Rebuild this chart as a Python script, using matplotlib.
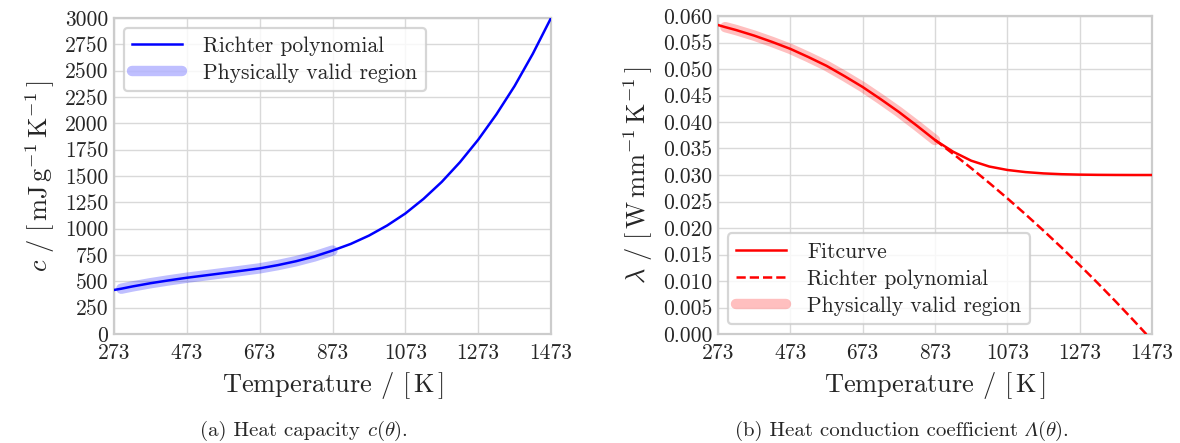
import matplotlib
matplotlib.use("Agg")
import matplotlib.pyplot as plt
import numpy as np

# ---------------- data ----------------
temp_c = [273, 293, 323, 373, 423, 473, 523, 573, 623, 673, 723, 773, 823, 873,
          923, 973, 1023, 1073, 1123, 1173, 1223, 1273, 1323, 1373, 1423, 1473]
heat_capacity = [418, 430, 451, 482, 509, 534, 556, 578, 600, 623, 654, 691, 736, 792,
                 855, 934, 1030, 1144, 1283, 1444, 1631, 1844, 2085, 2354, 2660, 3000]

temp_l = [273, 293, 323, 373, 423, 473, 523, 573, 623, 673, 723, 773, 823, 873,
          923, 973, 1023, 1073, 1123, 1173, 1223, 1273, 1323, 1373, 1423, 1473]
fitcurve = [0.0583, 0.0579, 0.05735, 0.0563, 0.0551, 0.0538, 0.05225, 0.0506, 0.04865,
            0.0466, 0.0443, 0.0419, 0.0393, 0.0366, 0.0344, 0.0327, 0.0316, 0.03095,
            0.03055, 0.0303, 0.03015, 0.03007, 0.03003, 0.03001, 0.0300, 0.0300]

temp_richter = [873, 923, 973, 1023, 1073, 1123, 1173, 1223, 1273, 1323, 1373, 1423, 1473]
richter_l = [0.0366, 0.0340, 0.0313, 0.0285, 0.0256, 0.0226, 0.0195, 0.0163, 0.0130,
             0.0096, 0.0061, 0.0025, -0.0012]

valid_range = (293, 873)
xticks = [273, 473, 673, 873, 1073, 1273, 1473]
c_ticks = list(range(0, 3001, 250))
l_ticks = [round(0.005 * i, 3) for i in range(13)]

# ---------------- style ----------------
plt.rcParams['font.family'] = 'serif'
plt.rcParams['font.serif'] = ['cmr10', 'DejaVu Serif']
plt.rcParams['mathtext.fontset'] = 'cm'
plt.rcParams['axes.formatter.use_mathtext'] = True
plt.rcParams['axes.unicode_minus'] = False

grid_col = '#d9d9d9'
spine_col = '#cccccc'
txt_col = '#262626'

fig = plt.figure(figsize=(11.8, 4.43), dpi=100)
ax1 = fig.add_axes([114 / 1180, 1 - 334 / 443, 437 / 1180, 316 / 443])
ax2 = fig.add_axes([718 / 1180, 1 - 334 / 443, 434 / 1180, 318 / 443])

def style(ax):
    ax.grid(True, color=grid_col, linewidth=1.0)
    ax.set_axisbelow(True)
    for s in ax.spines.values():
        s.set_color(spine_col)
        s.set_linewidth(1.6)
    ax.tick_params(axis='both', length=0, labelsize=15.5, colors=txt_col)
    ax.tick_params(axis='y', pad=4)
    ax.tick_params(axis='x', pad=7)

# ---- left: heat capacity ----
tc = np.array(temp_c)
hc = np.array(heat_capacity)
m = (tc >= valid_range[0]) & (tc <= valid_range[1])
ax1.plot(tc, hc, color='blue', lw=1.8, label='Richter polynomial', zorder=3)
ax1.plot(tc[m], hc[m], color='blue', alpha=0.25, lw=7.5, solid_capstyle='round',
         label='Physically valid region', zorder=2)
ax1.set_xlim(273, 1473)
ax1.set_ylim(0, 3000)
ax1.set_xticks(xticks)
ax1.set_xticklabels([str(v) for v in xticks])
ax1.set_yticks(c_ticks)
ax1.set_yticklabels([str(v) for v in c_ticks])
style(ax1)
ax1.set_xlabel(r'Temperature / $[\,\mathrm{K}\,]$', fontsize=19, labelpad=5, color=txt_col)
ax1.set_ylabel(r'$c\ /\ [\,\mathrm{mJ\,g^{-1}\,K^{-1}}\,]$', fontsize=19, labelpad=6, color=txt_col)
leg1 = ax1.legend(loc='upper left', fontsize=15.5, frameon=True, fancybox=True,
                  borderpad=0.4, handlelength=2.3, handletextpad=1.0, labelspacing=0.35,
                  borderaxespad=0.45)
leg1.get_frame().set_edgecolor(spine_col)
leg1.get_frame().set_linewidth(1.6)
for t in leg1.get_texts():
    t.set_color(txt_col)

# ---- right: heat conduction ----
tl = np.array(temp_l)
fl = np.array(fitcurve)
ml = (tl >= valid_range[0]) & (tl <= valid_range[1])
ax2.plot(tl, fl, color='red', lw=1.8, label='Fitcurve', zorder=3)
ax2.plot(temp_richter, richter_l, color='red', lw=1.8, ls='--', label='Richter polynomial', zorder=3)
ax2.plot(tl[ml], fl[ml], color='red', alpha=0.25, lw=7.5, solid_capstyle='round',
         label='Physically valid region', zorder=2)
ax2.set_xlim(273, 1473)
ax2.set_ylim(0, 0.060)
ax2.set_xticks(xticks)
ax2.set_xticklabels([str(v) for v in xticks])
ax2.set_yticks(l_ticks)
ax2.set_yticklabels([f'{v:.3f}' for v in l_ticks])
style(ax2)
ax2.set_xlabel(r'Temperature / $[\,\mathrm{K}\,]$', fontsize=19, labelpad=5, color=txt_col)
ax2.set_ylabel(r'$\lambda\ /\ [\,\mathrm{W\,mm^{-1}\,K^{-1}}\,]$', fontsize=19, labelpad=6, color=txt_col)
leg2 = ax2.legend(loc='lower left', fontsize=15.5, frameon=True, fancybox=True,
                  borderpad=0.4, handlelength=2.3, handletextpad=1.0, labelspacing=0.35,
                  borderaxespad=0.45)
leg2.get_frame().set_edgecolor(spine_col)
leg2.get_frame().set_linewidth(1.6)
for t in leg2.get_texts():
    t.set_color(txt_col)

# ---- captions ----
renderer = fig.canvas.get_renderer()

def caption(pieces, cx, y):
    # pieces laid out left-to-right (pixel coords), centred on cx
    texts = []
    x = 0.0
    for s, kw in pieces:
        t = fig.text(0, y, s, ha='left', va='baseline', color=txt_col,
                     transform=None, **kw)
        t.set_position((x, y))
        w = t.get_window_extent(renderer).width
        texts.append((t, x))
        x += w
    shift = cx - x / 2
    for t, x0 in texts:
        t.set_position((x0 + shift, y))

base_y = 443 - 436
caption([(r'(a) Heat capacity ', dict(fontsize=15)),
         (r'$c(\theta)$.', dict(fontsize=15))], 304, base_y)
caption([(r'(b) Heat conduction coefficient ', dict(fontsize=15)),
         ('\u039b', dict(fontsize=15, family='STIXGeneral', style='italic')),
         (r'$(\theta)$.', dict(fontsize=15))], 902, base_y)

fig.savefig('out.png', dpi=100)
